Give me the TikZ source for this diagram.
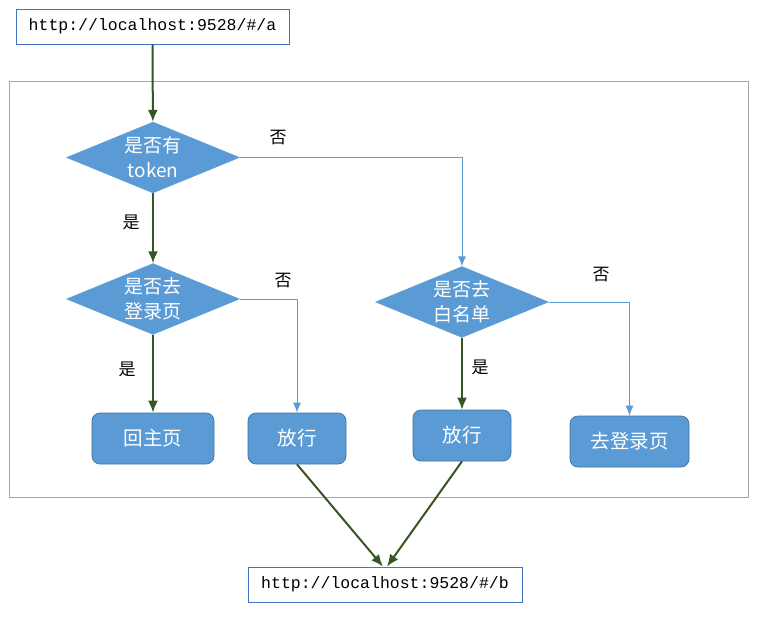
\documentclass[tikz,border=0pt]{standalone}
\usepackage{fontspec}
\setmonofont{Liberation Mono}
\newfontfamily\cjk{Noto Sans CJK SC}
\usetikzlibrary{shapes.geometric,arrows.meta}
\definecolor{nodefill}{HTML}{5B9BD5}
\definecolor{nodeline}{HTML}{41719C}
\definecolor{urlline}{HTML}{4472C4}
\definecolor{yesgreen}{HTML}{375623}
\definecolor{framegray}{HTML}{A6A6A6}

\begin{document}
\begin{tikzpicture}[x=1pt, y=-1pt,
	urlbox/.style={rectangle, draw=urlline, line width=0.9pt, minimum width=273pt, minimum height=35pt, inner sep=0pt, font=\ttfamily\fontsize{16.5}{18}\selectfont},
	decision/.style={diamond, fill=nodefill, draw=nodefill, aspect=2.44, minimum width=173pt, minimum height=71pt, inner sep=0pt, text=white, align=center, font=\cjk\fontsize{19}{25}\selectfont},
	action/.style={rectangle, rounded corners=8pt, fill=nodefill, draw=nodeline, line width=0.7pt, minimum height=51pt, text=white, font=\cjk\fontsize{19.5}{22}\selectfont},
	yes/.style={-{Latex[length=12pt,width=10pt]}, line width=2pt, draw=yesgreen},
	no/.style={-{Latex[length=10pt,width=8pt]}, line width=1pt, draw=nodefill},
	tag/.style={font=\cjk\fontsize{17}{19}\selectfont}]
\useasboundingbox (0,0) rectangle (779,621);

\draw[framegray, line width=1pt] (9,81) rectangle (748,497);

\node[urlbox] (src) at (152.5,26.5) {http://localhost:9528/\#/a};
\node[urlbox, minimum width=274pt] (dst) at (385,584.5) {http://localhost:9528/\#/b};

\node[decision] (token) at (153,157.5) {是否有\\token};
\node[decision] (login) at (153,299) {是否去\\登录页};
\node[decision] (white) at (462,302) {是否去\\白名单};

\node[action, minimum width=122pt] (home) at (153,438.5) {回主页};
\node[action, minimum width=98pt] (passa) at (297,438.5) {放行};
\node[action, minimum width=98pt] (passb) at (462,435.5) {放行};
\node[action, minimum width=119pt] (tologin) at (629.5,441.5) {去登录页};

\draw[yes] (src) -- (token);
\draw[yes] (token) -- (login);
\draw[yes] (login) -- (home);
\draw[yes] (white) -- (passb);
\draw[no] (token.east) -| (white.north);
\draw[no] (login.east) -| (passa.north);
\draw[no] (white.east) -| (tologin.north);
\draw[yes] (passa.south) -- ([xshift=-2pt]dst.north);
\draw[yes] (passb.south) -- ([xshift=2pt]dst.north);

\node[tag] (no1) at (278,138) {否};
\node[tag] (yes1) at (131,222) {是};
\node[tag] (no2) at (283,281) {否};
\node[tag] (yes2) at (127,369) {是};
\node[tag] (no3) at (601,275) {否};
\node[tag] (yes3) at (480,367) {是};

\end{tikzpicture}
\end{document}
